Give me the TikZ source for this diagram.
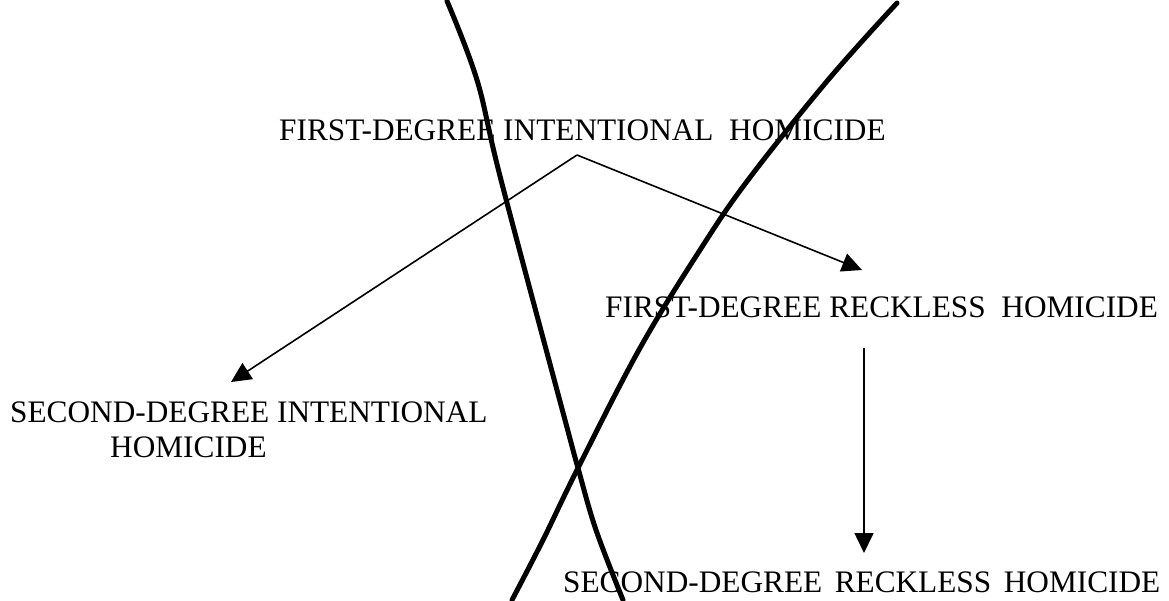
\documentclass[tikz,border=0pt]{standalone}
\usepackage{fontspec}
\setmainfont{Liberation Serif}
\usetikzlibrary{arrows.meta}
\tikzset{
  lbl/.style={inner sep=0pt, anchor=base west, font=\fontsize{31.3}{36}\selectfont},
  arr/.style={line width=1.6pt, -{Triangle[length=20pt,width=19pt]}},
  stroke/.style={line width=5pt, line cap=round, line join=round}
}
\begin{document}
\begin{tikzpicture}[x=1pt,y=-1pt]
\useasboundingbox[fill=white] (0,0) rectangle (1169,600);
\node[lbl] (fi) at (279,140) {FIRST-DEGREE INTENTIONAL\hspace{0.25em} HOMICIDE};
\node[lbl] (fr) at (605,317) {FIRST-DEGREE RECKLESS\hspace{0.25em} HOMICIDE};
\node[lbl] (si1) at (10,422) {SECOND-DEGREE INTENTIONAL};
\node[lbl] (si2) at (110,457) {HOMICIDE};
\node[lbl] (sr) at (563,592) {SECOND-DEGREE\hspace{0.15em} RECKLESS\hspace{0.15em} HOMICIDE};
\coordinate (apex) at (577,155);
\coordinate (tipL) at (231,382);
\coordinate (tipR) at (862,270);
\coordinate (vtop) at (864,348);
\coordinate (vtip) at (864,553);
\draw[arr] (apex) -- (tipL);
\draw[arr] (apex) -- (tipR);
\draw[arr] (vtop) -- (vtip);
\draw[stroke] plot[smooth, tension=0.6] coordinates {(447,1) (477,80) (501,180) (565,420) (578,468) (596,530) (623,600)};
\draw[stroke] plot[smooth, tension=0.6] coordinates {(897,3) (828,80) (748,180) (700,250) (640,348) (578,468) (543,540) (512,600)};
\end{tikzpicture}
\end{document}
